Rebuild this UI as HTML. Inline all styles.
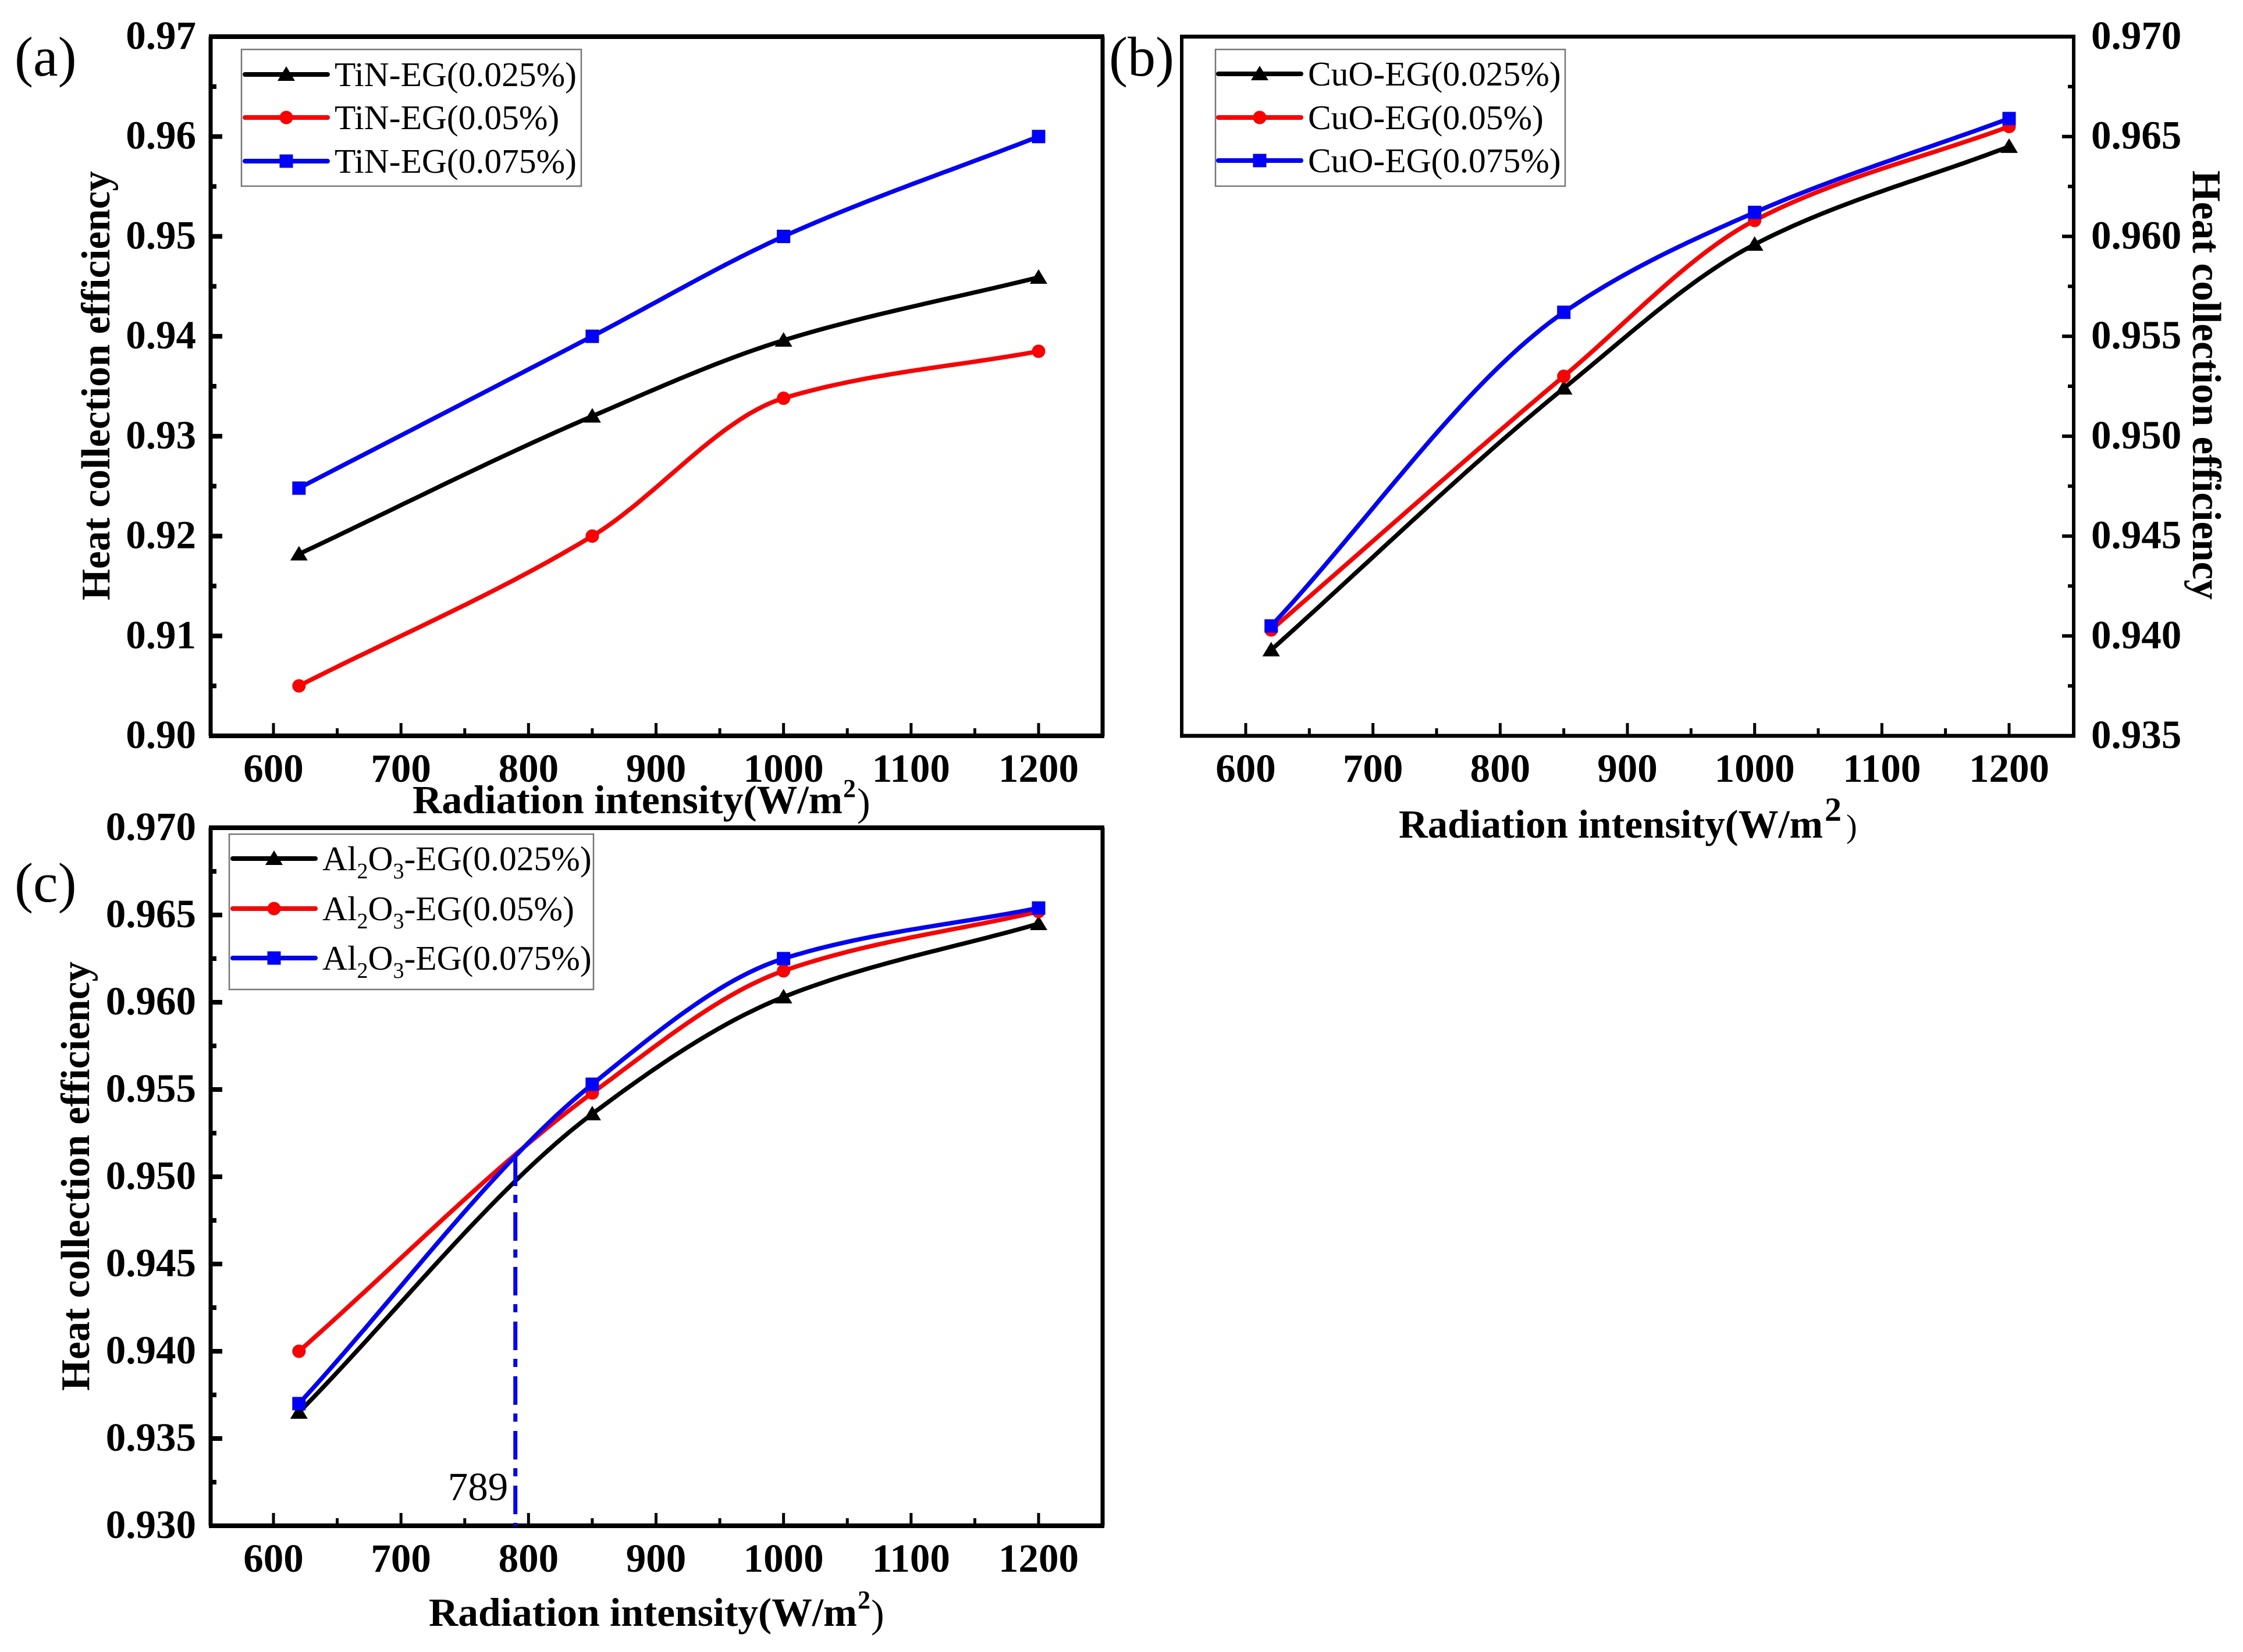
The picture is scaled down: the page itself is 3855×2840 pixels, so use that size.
<!DOCTYPE html>
<html lang="en">
<head>
<meta charset="utf-8">
<title>Heat collection efficiency vs radiation intensity</title>
<style>
html,body{margin:0;padding:0;background:#fff;}
svg{display:block;}
text{font-family:"Liberation Serif",serif;fill:#000;}
</style>
</head>
<body>
<svg id="figure" xmlns="http://www.w3.org/2000/svg" width="3855" height="2840" viewBox="0 0 3855 2840">
<rect x="0" y="0" width="3855" height="2840" fill="#fff"/>
</svg>
<script>
// Shared data
const radiationCategories = [620, 850, 1000, 1200];
const xTickLabels = [600, 700, 800, 900, 1000, 1100, 1200];
const xMinorTicks = [650, 750, 850, 950, 1050, 1150];

// Panel (a)
const tinSeries025 = [0.9182, 0.9320, 0.9396, 0.9459];
const tinSeries050 = [0.9050, 0.9200, 0.9338, 0.9385];
const tinSeries075 = [0.9248, 0.9400, 0.9500, 0.9600];
const tinYTicks = ['0.90', '0.91', '0.92', '0.93', '0.94', '0.95', '0.96', '0.97'];
const tinYMinor = [0.905, 0.915, 0.925, 0.935, 0.945, 0.955, 0.965];

// Panel (b)
const cuoSeries025 = [0.9393, 0.9524, 0.9596, 0.9645];
const cuoSeries050 = [0.9403, 0.9530, 0.9608, 0.9655];
const cuoSeries075 = [0.9405, 0.9562, 0.9612, 0.9659];
const cuoYTicks = ['0.935', '0.940', '0.945', '0.950', '0.955', '0.960', '0.965', '0.970'];
const cuoYMinor = [0.9375, 0.9425, 0.9475, 0.9525, 0.9575, 0.9625, 0.9675];

// Panel (c)
const alSeries025 = [0.9365, 0.9536, 0.9603, 0.9645];
const alSeries050 = [0.9400, 0.9548, 0.9618, 0.9652];
const alSeries075 = [0.9370, 0.9553, 0.9625, 0.9654];
const alYTicks = ['0.930', '0.935', '0.940', '0.945', '0.950', '0.955', '0.960', '0.965', '0.970'];
const alYMinor = [0.9325, 0.9375, 0.9425, 0.9475, 0.9525, 0.9575, 0.9625, 0.9675];
const crossoverRadiation = [789];
const crossoverEfficiency = [0.9511];

const NS = 'http://www.w3.org/2000/svg';
const root = document.getElementById('figure');

function make(tag, attrs, parent, txt) {
  const el = document.createElementNS(NS, tag);
  for (const k in attrs) el.setAttribute(k, attrs[k]);
  if (txt !== undefined) el.textContent = txt;
  (parent || root).appendChild(el);
  return el;
}
function scale(d0, d1, r0, r1) {
  return function (v) { return r0 + (v - d0) * (r1 - r0) / (d1 - d0); };
}

// Piecewise cubic Hermite through the data: interior tangents are the
// weighted harmonic mean of neighbouring secants, end tangents follow the end secants.
function splineSamples(xs, ys) {
  const n = xs.length;
  const h = [], sec = [], m = [];
  for (let i = 0; i < n - 1; i++) {
    h[i] = xs[i + 1] - xs[i];
    sec[i] = (ys[i + 1] - ys[i]) / h[i];
  }
  m[0] = sec[0];
  m[n - 1] = sec[n - 2];
  for (let i = 1; i < n - 1; i++) {
    const w1 = 2 * h[i] + h[i - 1], w2 = h[i] + 2 * h[i - 1];
    m[i] = sec[i - 1] * sec[i] > 0 ? (w1 + w2) / (w1 / sec[i - 1] + w2 / sec[i]) : 0;
  }
  const out = [];
  for (let i = 0; i < n - 1; i++) {
    for (let s = 0; s < 40; s++) {
      const t = s / 40, t2 = t * t, t3 = t2 * t;
      out.push([
        xs[i] + h[i] * t,
        (2 * t3 - 3 * t2 + 1) * ys[i] + (t3 - 2 * t2 + t) * h[i] * m[i] +
        (-2 * t3 + 3 * t2) * ys[i + 1] + (t3 - t2) * h[i] * m[i + 1]
      ]);
    }
  }
  out.push([xs[n - 1], ys[n - 1]]);
  return out;
}

function drawMarker(g, kind, cx, cy, color) {
  let m;
  if (kind === 'triangle') {
    m = make('polygon', { points: (cx - 15) + ',' + (cy + 11) + ' ' + (cx + 15) + ',' + (cy + 11) + ' ' + cx + ',' + (cy - 14), fill: color }, g);
  } else if (kind === 'circle') {
    m = make('circle', { cx: cx, cy: cy, r: 11.5, fill: color }, g);
  } else {
    m = make('rect', { x: cx - 11.5, y: cy - 11.5, width: 23, height: 23, fill: color }, g);
  }
  return m;
}

function drawPanel(p) {
  const sx = scale(600, 1200, p.x600, p.x1200);
  const sy = scale(p.yMin, p.yMax, p.bottom, p.top);
  const g = make('g', {});
  
  

  // series
  p.series.forEach(function (s) {
    const pts = splineSamples(radiationCategories, s.values);
    const d = pts.map(function (q, i) { return (i ? 'L' : 'M') + sx(q[0]).toFixed(1) + ' ' + sy(q[1]).toFixed(1); }).join('');
    const line = make('path', { d: d, fill: 'none', stroke: s.color, 'stroke-width': 7.5, 'stroke-linejoin': 'round' }, g);
    
    
    s.values.forEach(function (v, i) {
      const m = drawMarker(g, s.marker, sx(radiationCategories[i]), sy(v), s.color);
      
      
    });
  });

  // frame: vertical edges are thinner than horizontal edges in the reference
  const frame = [
    [p.left - 3, p.top, p.right + 3, p.top, 8],
    [p.left - 3, p.bottom, p.right + 3, p.bottom, 8],
    [p.left, p.top, p.left, p.bottom, 7],
    [p.right, p.top, p.right, p.bottom, 7]
  ];
  frame.forEach(function (f, i) {
    const e = make('line', { x1: f[0], y1: f[1], x2: f[2], y2: f[3], stroke: '#000', 'stroke-width': f[4] * (p.thin ? 0.85 : 1) }, g);
    
    
  });

  // x ticks
  xTickLabels.forEach(function (v) {
    const t = make('line', { x1: sx(v), y1: p.bottom, x2: sx(v), y2: p.bottom - 22, stroke: '#000', 'stroke-width': 5 }, g);
    
    
    const l = make('text', { x: sx(v), y: p.bottom + 79, 'text-anchor': 'middle', 'font-size': 69, 'font-weight': 'bold' }, g, String(v));
    
    
  });
  xMinorTicks.forEach(function (v) {
    const t = make('line', { x1: sx(v), y1: p.bottom, x2: sx(v), y2: p.bottom - 13, stroke: '#000', 'stroke-width': 5 }, g);
    
    
  });

  // y ticks
  const axisX = p.yRight ? p.right : p.left;
  const dir = p.yRight ? -1 : 1;
  p.yTicks.forEach(function (lab) {
    const v = parseFloat(lab);
    const t = make('line', { x1: axisX, y1: sy(v), x2: axisX + dir * 20, y2: sy(v), stroke: '#000', 'stroke-width': p.thin ? 6 : 8 }, g);
    
    
    const l = make('text', {
      x: p.yRight ? p.right + 30 : p.left - 25, y: sy(v) + 21,
      'text-anchor': p.yRight ? 'start' : 'end', 'font-size': 69, 'font-weight': 'bold'
    }, g, lab);
    
    
  });
  p.yMinor.forEach(function (v) {
    const t = make('line', { x1: axisX, y1: sy(v), x2: axisX + dir * 10, y2: sy(v), stroke: '#000', 'stroke-width': p.thin ? 6 : 8 }, g);
    
    
  });

  // x title
  const xt = make('text', { x: p.xTitle.x, y: p.xTitle.y, 'font-size': 69, 'font-weight': 'bold', textLength: p.xTitle.len, lengthAdjust: 'spacingAndGlyphs' }, g, 'Radiation intensity(W/m');
  
  
  const sup = make('text', { x: p.xTitle.x + p.xTitle.len + p.xTitle.supDx, y: p.xTitle.supY, 'font-size': p.xTitle.supSize, 'font-weight': 'bold' }, g, '2');
  
  
  const par = make('text', { x: p.xTitle.parX, y: p.xTitle.parY, 'font-size': p.xTitle.parSize }, g, ')');
  
  

  // y title
  const yt = make('text', {
    transform: 'translate(' + p.yTitle.x + ',' + p.yTitle.y + ') rotate(' + p.yTitle.rot + ')',
    'font-size': 70, 'font-weight': 'bold', textLength: 738, lengthAdjust: 'spacingAndGlyphs'
  }, g, 'Heat collection efficiency');
  
  

  // legend
  const lg = make('g', {}, g);
  
  
  make('rect', { x: p.legend.x, y: p.legend.y, width: p.legend.w, height: p.legend.h, fill: '#fff', stroke: '#777', 'stroke-width': 2.5 }, lg);
  p.series.forEach(function (s, i) {
    const ly = p.legend.rows[i];
    const e = make('g', {}, lg);
    
    
    make('line', { x1: p.legend.lineX, y1: ly, x2: p.legend.lineX + 142, y2: ly, stroke: s.color, 'stroke-width': 8, 'stroke-linecap': 'round' }, e);
    drawMarker(e, s.marker, p.legend.lineX + 71, ly, s.color);
    const tx = make('text', { x: p.legend.textX, y: ly + 20, 'font-size': 59.5 }, e);
    if (p.subscript) {
      make('tspan', {}, tx, 'Al');
      make('tspan', { dy: 14, 'font-size': 38 }, tx, '2');
      make('tspan', { dy: -14 }, tx, 'O');
      make('tspan', { dy: 14, 'font-size': 38 }, tx, '3');
      make('tspan', { dy: -14 }, tx, '-EG(' + s.label + '%)');
    } else {
      tx.textContent = p.prefix + '-EG(' + s.label + '%)';
    }
  });
}

const panels = [
  {
    id: 'tin', prefix: 'TiN', left: 362, right: 1895, top: 63, bottom: 1265, x600: 470, x1200: 1785,
    yMin: 0.90, yMax: 0.97, yTicks: tinYTicks, yMinor: tinYMinor,
    series: [
      { key: '025', label: '0.025', color: '#000', marker: 'triangle', values: tinSeries025 },
      { key: '050', label: '0.05', color: '#f00', marker: 'circle', values: tinSeries050 },
      { key: '075', label: '0.075', color: '#00f', marker: 'square', values: tinSeries075 }
    ],
    xTitle: { x: 709, y: 1398, len: 739, supDx: 1, supY: 1370, supSize: 44, parX: 1473, parY: 1402, parSize: 68 },
    yTitle: { x: 188, y: 1032, rot: -90 },
    legend: { x: 415, y: 85, w: 584, h: 235, lineX: 421, textX: 575, rows: [128, 202, 277] }
  },
  {
    id: 'cuo', prefix: 'CuO', left: 2031, right: 3564, top: 63, bottom: 1265, x600: 2141, x1200: 3453, thin: true, yRight: true,
    yMin: 0.935, yMax: 0.97, yTicks: cuoYTicks, yMinor: cuoYMinor,
    series: [
      { key: '025', label: '0.025', color: '#000', marker: 'triangle', values: cuoSeries025 },
      { key: '050', label: '0.05', color: '#f00', marker: 'circle', values: cuoSeries050 },
      { key: '075', label: '0.075', color: '#00f', marker: 'square', values: cuoSeries075 }
    ],
    xTitle: { x: 2404, y: 1440, len: 729, supDx: 3, supY: 1411, supSize: 58, parX: 3173, parY: 1439, parSize: 56 },
    yTitle: { x: 3769, y: 293, rot: 90 },
    legend: { x: 2089, y: 85, w: 601, h: 235, lineX: 2094, textX: 2248, rows: [127, 202, 276] }
  },
  {
    id: 'al2o3', subscript: true, left: 362, right: 1895, top: 1423, bottom: 2623, x600: 470, x1200: 1785,
    yMin: 0.93, yMax: 0.97, yTicks: alYTicks, yMinor: alYMinor,
    series: [
      { key: '025', label: '0.025', color: '#000', marker: 'triangle', values: alSeries025 },
      { key: '050', label: '0.05', color: '#f00', marker: 'circle', values: alSeries050 },
      { key: '075', label: '0.075', color: '#00f', marker: 'square', values: alSeries075 }
    ],
    xTitle: { x: 737, y: 2795, len: 736, supDx: 1, supY: 2765, supSize: 44, parX: 1497, parY: 2797, parSize: 68 },
    yTitle: { x: 153, y: 2391, rot: -90 },
    legend: { x: 394, y: 1434, w: 626, h: 267, lineX: 400, textX: 554, rows: [1476, 1562, 1647] }
  }
];
panels.forEach(drawPanel);

// crossover marker in panel (c)
const cPanel = panels[2];
const cx = scale(600, 1200, cPanel.x600, cPanel.x1200);
const cy = scale(cPanel.yMin, cPanel.yMax, cPanel.bottom, cPanel.top);
const crossLine = make('line', {
  x1: cx(crossoverRadiation[0]) + 1.5, y1: cy(crossoverEfficiency[0]),
  x2: cx(crossoverRadiation[0]) + 1.5, y2: cPanel.bottom,
  stroke: '#00f', 'stroke-width': 7, 'stroke-dasharray': '49 15 14 16'
});


const crossLabel = make('text', { x: cx(crossoverRadiation[0]) - 11, y: 2579, 'text-anchor': 'end', 'font-size': 69 }, root, String(crossoverRadiation[0]));



// panel letters
const letterA = make('text', { x: 25, y: 130, 'font-size': 96 }, root, '(a)');


const letterB = make('text', { x: 1906, y: 130, 'font-size': 96 }, root, '(b)');


const letterC = make('text', { x: 25, y: 1550, 'font-size': 96 }, root, '(c)');


</script>
</body>
</html>
